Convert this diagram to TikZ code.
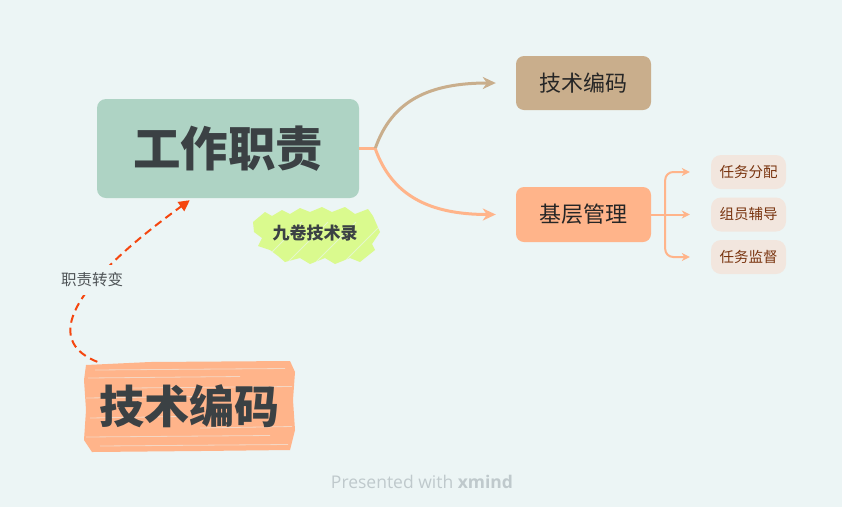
\documentclass[tikz,border=0pt]{standalone}
\usepackage{fontspec}
\setmainfont{Noto Sans CJK SC}
\newfontfamily\latinfont{Open Sans}
\usetikzlibrary{arrows.meta,calc}
\definecolor{bg}{HTML}{ECF5F5}
\definecolor{centralfill}{HTML}{AED3C4}
\definecolor{darktext}{HTML}{3B4144}
\definecolor{tan}{HTML}{C9AE8C}
\definecolor{peach}{HTML}{FFB48A}
\definecolor{subfill}{HTML}{F2E6DE}
\definecolor{subtext}{HTML}{7A3510}
\definecolor{lime}{HTML}{DAFA8E}
\definecolor{redline}{HTML}{F5460F}
\definecolor{credit}{HTML}{BFC9CC}
\tikzset{
  centralbox/.style={fill=centralfill, rounded corners=9pt, minimum width=262pt, minimum height=99pt, text=darktext, font=\fontsize{47.5}{47.5}\selectfont\bfseries, inner sep=0pt},
  mainbox/.style={rounded corners=8pt, minimum width=135pt, minimum height=54pt, text=black!85, font=\fontsize{22}{22}\selectfont, inner sep=0pt},
  subbox/.style={fill=subfill, rounded corners=10pt, minimum width=75pt, minimum height=34pt, text=subtext, font=\fontsize{14.5}{14.5}\selectfont, inner sep=0pt},
  branch/.style={line width=3pt, -{Stealth[length=13pt,width=12pt,inset=4pt]}},
  subbranch/.style={line width=2pt, draw=peach, -{Stealth[length=8pt,width=8pt,inset=2.5pt]}},
  relation/.style={draw=redline, line width=2pt, dash pattern=on 8pt off 5pt, -{Triangle[length=11pt,width=11pt]}},
}
\begin{document}
\begin{tikzpicture}[x=1pt,y=-1pt]
\fill[bg] (0,0) rectangle (842,507);
\useasboundingbox (0,0) rectangle (842,507);

% central topic
\node[centralbox] (c) at (228,148.5) {工作职责};

% main branches
\node[mainbox, fill=tan] (tech) at (583.5,83) {技术编码};
\node[mainbox, fill=peach, minimum height=55pt] (mgmt) at (583.5,214.5) {基层管理};

% sub topics
\node[subbox] (s1) at (748.5,172) {任务分配};
\node[subbox] (s2) at (748.5,214.5) {组员辅导};
\node[subbox] (s3) at (748.5,257) {任务监督};

% connectors from central
\draw[line width=3pt, peach] (c.east) -- ++(16,0) coordinate (j);
\draw[branch, tan] (j) .. controls (392,100) and (430,83) .. ($(tech.west)+(-20,0)$);
\draw[branch, peach] (j) .. controls (392,196) and (430,214.5) .. ($(mgmt.west)+(-20,0)$);

% sub connectors
\draw[line width=2pt, peach] (mgmt.east) -- ++(14,0) coordinate (k);
\draw[subbranch, rounded corners=8pt] (k) |- ($(s1.west)+(-21,0)$);
\draw[subbranch] (k) -- ($(s2.west)+(-21,0)$);
\draw[subbranch, rounded corners=8pt] (k) |- ($(s3.west)+(-21,0)$);

% green scribble floating topic
\fill[lime] (253,222) -- (265,212) -- (272,216) -- (282,210) -- (290,214) -- (300,208) -- (310,212) -- (322,207) -- (332,212) -- (345,207) -- (355,214) -- (368,209) -- (373,216) -- (380,232) -- (372,244) -- (375,250) -- (360,262) -- (350,258) -- (335,264) -- (325,258) -- (310,264) -- (300,258) -- (285,262) -- (278,256) -- (270,250) -- (258,246) -- (262,238) -- (254,232) -- cycle;
\foreach \xa in {262,288,316,344} {
  \draw[bg, opacity=0.6, line width=0.8pt] (\xa,262) -- (\xa+40,222);
}
\node[text=darktext, font=\fontsize{17}{17}\selectfont\bfseries] (nine) at (315,233) {九卷技术录};

% bottom scribble floating topic
\fill[peach] (86,365) -- (150,362) -- (290,361) -- (295,372) -- (293,400) -- (295,430) -- (290,450) -- (200,451) -- (92,452) -- (84,440) -- (86,410) -- (84,380) -- cycle;
\foreach \ya/\xa/\xb in {370/95/285, 378/88/240, 388/130/292, 398/86/200, 418/90/180, 428/200/292, 437/86/270, 446/100/288} {
  \draw[bg, opacity=0.55, line width=0.8pt] (\xa,\ya) -- (\xb,\ya-1.5);
}
\node[minimum width=213pt, minimum height=92pt, text=darktext, font=\fontsize{45}{45}\selectfont\bfseries, inner sep=0pt] (b) at (189,406) {技术编码};

% relationship
\draw[relation] ($(b.north west)+(15,2)$) .. controls (30,335) and (100,265) .. ($(c.south west)+(93,2)$);
\node[fill=bg, inner xsep=2pt, inner ysep=8pt, text=darktext!90, font=\fontsize{15.5}{15.5}\selectfont] (lbl) at (92,280) {职责转变};

% credit
\node[text=credit, font=\latinfont\fontsize{17.5}{17.5}\selectfont] (cr) at (422,482) {Presented with \textbf{xmind}};
\end{tikzpicture}
\end{document}
